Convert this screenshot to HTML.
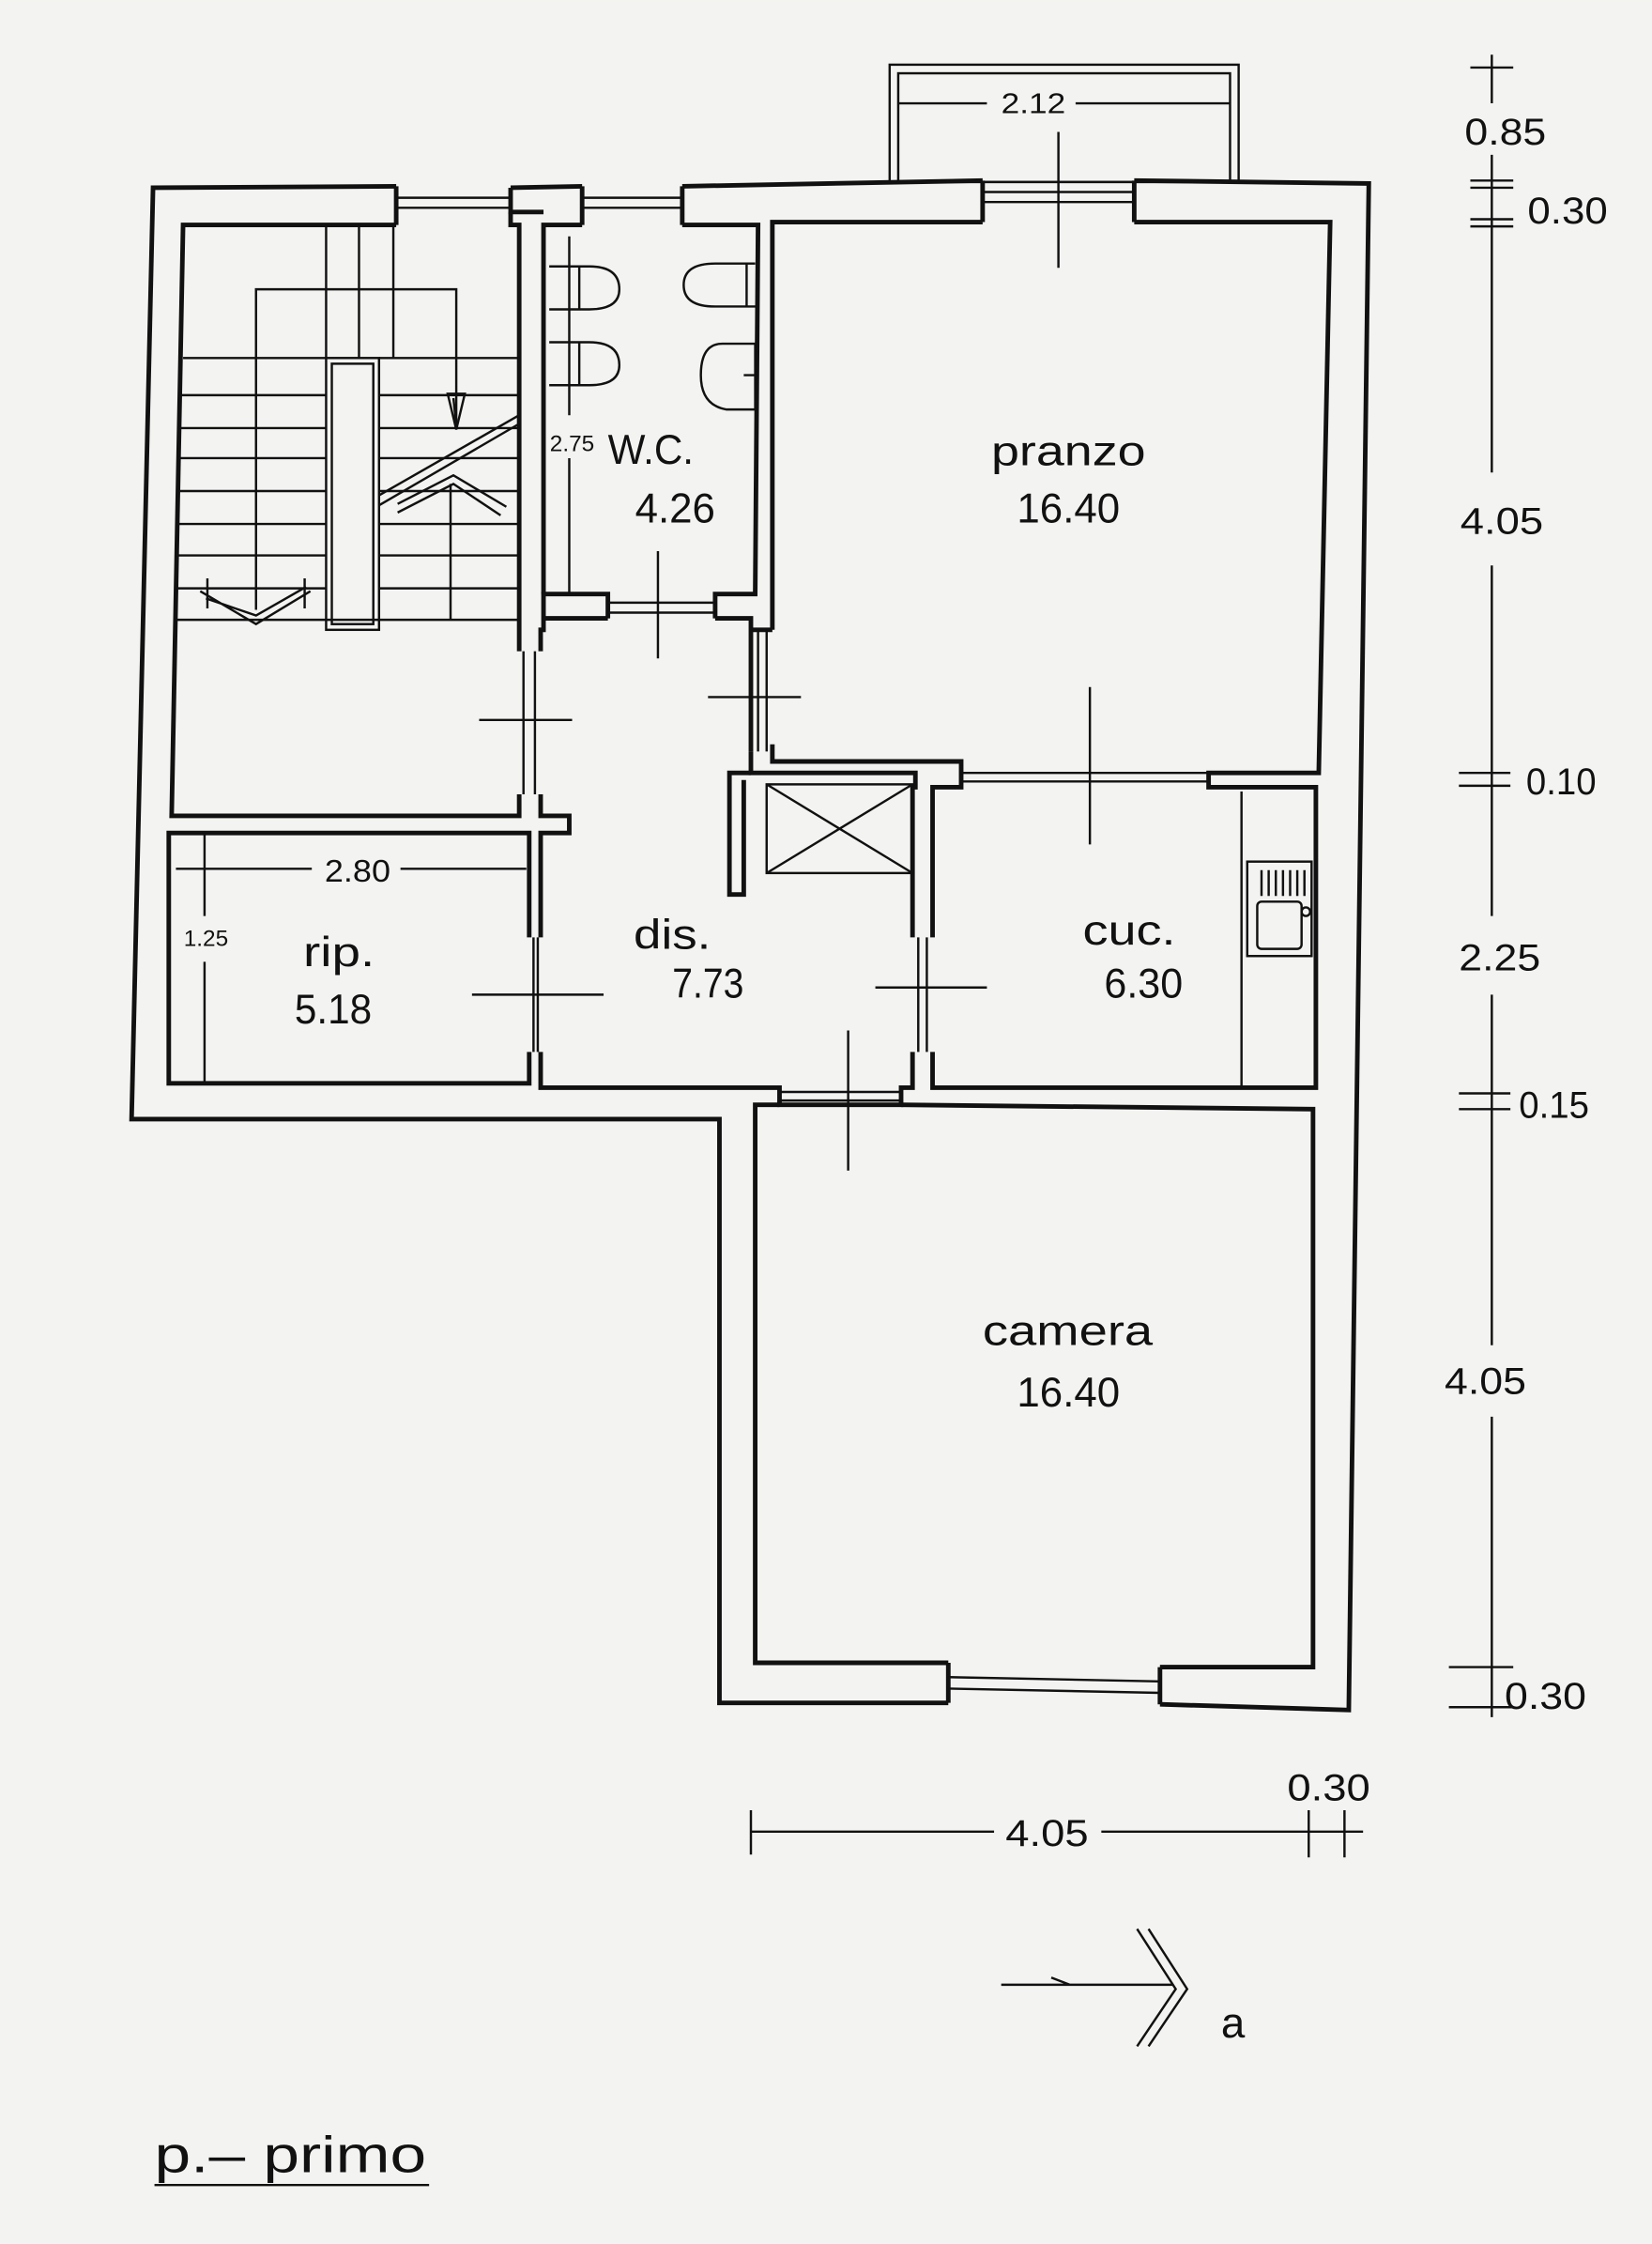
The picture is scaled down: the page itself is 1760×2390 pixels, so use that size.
<!DOCTYPE html>
<html><head><meta charset="utf-8"><style>
html,body{margin:0;padding:0;background:#f3f3f1;}
svg{display:block;}
text{font-family:"Liberation Sans","DejaVu Sans",sans-serif;fill:#111;}
</style></head><body>
<svg width="1760" height="2390" viewBox="0 0 1155 1568" xmlns="http://www.w3.org/2000/svg">
<rect width="1155" height="1568" fill="#f3f3f1"/>
<g stroke="#111" fill="none" stroke-width="3.2" stroke-linejoin="miter">
<path d="M277,130 L107,131 L92,782 L503,782 L503,1190 L663,1190"/>
<path d="M811,1191 L943,1195 L957,128 L793,126"/>
<path d="M687,126 L477,130"/>
<path d="M407,130 L357,131"/>
<path d="M277,130 L277,157 M357,131 L357,148 L380,148 M407,130 L407,157 M477,130 L477,157 M687,126 L687,155 M793,126 L793,155"/>
<path d="M663,1190 L663,1162 M811,1191 L811,1165"/>
<path d="M277,157 L128,157 L120,570 L363,570 L363,555 M363,455 L363,157 L357,157 L357,148"/>
<path d="M378,455 L378,440 L380,440 L380,415 L425,415 L425,432 M378,555 L378,570 L398,570 L398,582 L378,582 L378,655"/>
<path d="M407,157 L380,157 L380,415 M477,157 L530,157 L528,415 L500,415 L500,432"/>
<path d="M380,432 L425,432 M500,432 L525,432 L525,440 L540,440 M525,440 L525,525"/>
<path d="M540,440 L540,155 L687,155 M793,155 L930,155 L922,540 L845,540 L845,550 L920,550 L920,760 L652,760 L652,735 M638,735 L638,760 L630,760 L630,772 L545,772 L545,760 L378,760 L378,735"/>
<path d="M540,520 L540,532 L672,532 L672,550 L652,550 L652,655 M638,655 L638,550 L640,550 L640,540 L525,540 L525,525"/>
<path d="M525,540 L510,540 L510,625 L520,625 L520,545"/>
<path d="M370,655 L370,582 L118,582 L118,757 L370,757 L370,735"/>
<path d="M545,772 L528,772 L528,1162 L663,1162 M811,1165 L918,1165 L918,775 L630,772"/>
</g>
<g stroke="#111" fill="none" stroke-width="1.6">
<path d="M277,138 L357,138 M277,145 L357,145 M407,138 L477,138 M407,145 L477,145 M687,134 L793,134 M687,141 L793,141"/>
<rect x="622" y="45" width="244" height="82"/>
<rect x="628" y="51" width="232" height="76"/>
<path d="M690,72 L628,72 M752,72 L860,72"/>
<path d="M663,1172 L811,1175 M663,1180 L811,1183"/>
<path d="M425,421 L500,421 M425,428 L500,428 M366,455 L366,555 M374,455 L374,555 M530,440 L530,525 M536,440 L536,525 M672,540 L845,540 M672,546 L845,546 M373,655 L373,735 M376,655 L376,735 M642,655 L642,735 M648,655 L648,735 M545,763 L630,763 M545,769 L630,769"/>
<path d="M740,92 L740,187 M460,385 L460,460 M495,487 L560,487 M335,503 L400,503 M762,480 L762,590 M330,695 L422,695 M612,690 L690,690 M593,720 L593,818"/>
<path d="M128,250 L228,250 M265,250 L363,250"/>
<path d="M126,276 L228,276 M126,299 L228,299 M125,320 L228,320 M125,343 L228,343 M124,366 L228,366 M124,388 L228,388 M123,411 L228,411"/>
<path d="M265,276 L363,276 M265,299 L363,299 M265,320 L363,320 M265,343 L363,343 M265,366 L363,366 M265,388 L363,388 M265,411 L363,411"/>
<path d="M122,433 L363,433"/>
<rect x="228" y="250" width="37" height="190"/>
<rect x="232" y="254" width="29" height="182"/>
<path d="M228,157 L228,250 M251,157 L251,250 M275,157 L275,250"/>
<path d="M179,426 L179,202 L319,202 L319,297"/>
<path d="M313,275 L325,275 L319,300 Z M317,278 L319,297"/>
<path d="M315,338 L315,433"/>
<path d="M265,346 L363,290 M265,353 L363,296"/>
<path d="M278,352 L317,332 L354,354 M278,358 L317,338 L350,360"/>
<path d="M140,413 L179,436 L217,413 M144,418 L179,430 L214,410 M145,404 L145,425 M213,404 L213,425"/>
<path d="M398,165 L398,290 M398,320 L398,415"/>
<path d="M384,186 L412,186 Q433,186 433,202 Q433,216 412,216 L384,216 M405,186 L405,216"/>
<path d="M384,239 L412,239 Q433,239 433,255 Q433,269 412,269 L384,269 M405,239 L405,269"/>
<path d="M528,184 L500,184 Q478,184 478,199 Q478,214 500,214 L528,214 M522,184 L522,214"/>
<path d="M528,240 L505,240 Q490,240 490,262 Q490,283 508,286 L528,286 Z M520,262 L528,262"/>
<rect x="536" y="548" width="102" height="62"/>
<path d="M536,548 L638,610 M638,548 L536,610"/>
<path d="M868,553 L868,760"/>
<rect x="872" y="602" width="45" height="66"/>
<rect x="879" y="630" width="31" height="33" rx="3"/>
<path d="M882,608 L882,626 M887,608 L887,626 M892,608 L892,626 M897,608 L897,626 M902,608 L902,626 M907,608 L907,626 M912,608 L912,626"/>
<circle cx="913" cy="637" r="3"/>
<path d="M123,607 L218,607 M280,607 L368,607 M143,582 L143,640 M143,672 L143,757"/>
<path d="M1043,38 L1043,72 M1043,108 L1043,330 M1043,395 L1043,640 M1043,695 L1043,940 M1043,990 L1043,1200"/>
<path d="M1028,47 L1058,47 M1028,126 L1058,126 M1028,131 L1058,131 M1028,153 L1058,153 M1028,158 L1058,158 M1020,540 L1056,540 M1020,549 L1056,549 M1020,764 L1056,764 M1020,775 L1056,775 M1013,1165 L1058,1165 M1013,1193 L1058,1193"/>
<path d="M525,1280 L695,1280 M770,1280 L953,1280 M525,1265 L525,1296 M915,1265 L915,1298 M940,1265 L940,1298"/>
<path d="M700,1387 L820,1387 M735,1382 L748,1387 M795,1348 L822,1390 L795,1430 M803,1348 L830,1390 L803,1430"/>
<path d="M108,1527 L300,1527"/>
</g>
<g font-size="29">
<text x="693" y="325" textLength="108" lengthAdjust="spacingAndGlyphs">pranzo</text>
<text x="711" y="365" textLength="72" lengthAdjust="spacingAndGlyphs">16.40</text>
<text x="425" y="324" textLength="60" lengthAdjust="spacingAndGlyphs">W.C.</text>
<text x="444" y="365" textLength="56" lengthAdjust="spacingAndGlyphs">4.26</text>
<text x="443" y="663" textLength="54" lengthAdjust="spacingAndGlyphs">dis.</text>
<text x="470" y="697" textLength="50" lengthAdjust="spacingAndGlyphs">7.73</text>
<text x="757" y="660" textLength="65" lengthAdjust="spacingAndGlyphs">cuc.</text>
<text x="772" y="697" textLength="55" lengthAdjust="spacingAndGlyphs">6.30</text>
<text x="212" y="675" textLength="50" lengthAdjust="spacingAndGlyphs">rip.</text>
<text x="206" y="715" textLength="54" lengthAdjust="spacingAndGlyphs">5.18</text>
<text x="687" y="940" textLength="119" lengthAdjust="spacingAndGlyphs">camera</text>
<text x="711" y="983" textLength="72" lengthAdjust="spacingAndGlyphs">16.40</text>
</g>
<g font-size="26">
<text x="1024" y="101" textLength="57" lengthAdjust="spacingAndGlyphs">0.85</text>
<text x="1068" y="156" textLength="56" lengthAdjust="spacingAndGlyphs">0.30</text>
<text x="1021" y="373" textLength="58" lengthAdjust="spacingAndGlyphs">4.05</text>
<text x="1067" y="555" textLength="49" lengthAdjust="spacingAndGlyphs">0.10</text>
<text x="1020" y="678" textLength="57" lengthAdjust="spacingAndGlyphs">2.25</text>
<text x="1062" y="781" textLength="49" lengthAdjust="spacingAndGlyphs">0.15</text>
<text x="1010" y="974" textLength="57" lengthAdjust="spacingAndGlyphs">4.05</text>
<text x="1052" y="1194" textLength="57" lengthAdjust="spacingAndGlyphs">0.30</text>
<text x="703" y="1290" textLength="58" lengthAdjust="spacingAndGlyphs">4.05</text>
<text x="900" y="1258" textLength="58" lengthAdjust="spacingAndGlyphs">0.30</text>
<text x="227" y="616" font-size="22" textLength="46" lengthAdjust="spacingAndGlyphs">2.80</text>
<text x="700" y="79" font-size="20" textLength="45" lengthAdjust="spacingAndGlyphs">2.12</text>
<text x="862" y="1424" text-anchor="middle" font-size="30">a</text>
</g>
<text x="400" y="315" text-anchor="middle" font-size="16">2.75</text>
<text x="144" y="661" text-anchor="middle" font-size="16">1.25</text>
<text x="108" y="1518" font-size="36" textLength="190" lengthAdjust="spacingAndGlyphs">p.– primo</text>
</svg>
</body></html>
